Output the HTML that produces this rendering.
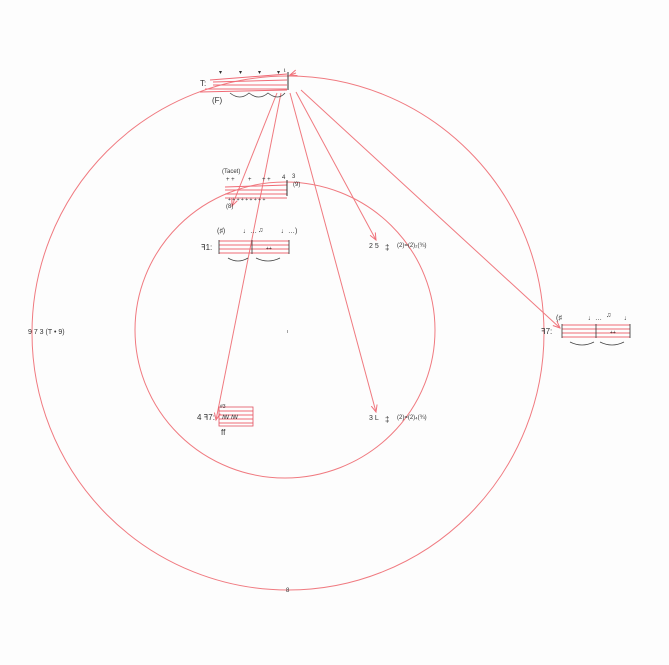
<!DOCTYPE html>
<html><head><meta charset="utf-8"><style>
html,body{margin:0;padding:0;background:#fdfdfd;}
svg{display:block}
text{font-family:"Liberation Sans",sans-serif;fill:#333;}
</style></head><body>
<svg width="669" height="665" viewBox="0 0 669 665" xmlns="http://www.w3.org/2000/svg">
<defs><marker id="a" markerWidth="8" markerHeight="8" refX="7" refY="4" orient="auto"><path d="M0,1 L7,4 L0,7" fill="none" stroke="#f0707a" stroke-width="1"/></marker></defs>
<g fill="none" stroke="#f07a80" stroke-width="1">
<ellipse cx="288" cy="333" rx="256" ry="257"/>
<ellipse cx="285" cy="330" rx="150" ry="148"/>
<path d="M296,73 L290,75" marker-end="url(#a)"/>
<line x1="277" y1="93" x2="232" y2="206" marker-end="url(#a)"/>
<line x1="281" y1="93" x2="216" y2="420" marker-end="url(#a)"/>
<line x1="290" y1="93" x2="376" y2="412" marker-end="url(#a)"/>
<line x1="296" y1="92" x2="376" y2="240" marker-end="url(#a)"/>
<line x1="301" y1="90" x2="560" y2="328" marker-end="url(#a)"/>
</g>
<!-- top staff -->
<g stroke="#f06a75" stroke-width="1">
<line x1="210" y1="80" x2="287" y2="74"/><line x1="213" y1="82" x2="287" y2="80"/><line x1="213" y1="85" x2="287" y2="85"/><line x1="205" y1="89" x2="287" y2="89"/>
<line x1="200" y1="92" x2="287" y2="90"/>
</g>
<line x1="288" y1="72" x2="288" y2="90" stroke="#333"/>
<text x="200" y="86" font-size="8">T:</text><text x="212" y="103" font-size="8">(F)</text>
<g font-size="6"><text x="219" y="74">▾</text><text x="239" y="74">▾</text><text x="258" y="74">▾</text><text x="277" y="74">▾</text><text x="284" y="72">ɩ</text></g>
<path d="M230,93 q10,8 19,0 q10,8 19,0 q10,8 17,0" stroke="#444" fill="none" stroke-width="0.8"/>
<!-- second staff -->
<g stroke="#f06a75" stroke-width="1">
<line x1="225" y1="187" x2="287" y2="185"/><line x1="225" y1="190" x2="287" y2="190"/><line x1="225" y1="194" x2="287" y2="194"/><line x1="225" y1="198" x2="287" y2="198"/></g>
<line x1="287" y1="180" x2="287" y2="196" stroke="#333"/>
<text x="222" y="173" font-size="6">(Tacet)</text>
<g font-size="6"><text x="226" y="181">+ +</text><text x="248" y="181">+</text><text x="262" y="181">+ +</text><text x="282" y="179">4</text><text x="292" y="178">3</text><text x="293" y="186">(9)</text></g>
<text x="228" y="201" font-size="5">+ + + + + + + + +</text><text x="226" y="208" font-size="6">(8)</text>
<!-- third staff -->
<g stroke="#f06a75" stroke-width="1">
<line x1="219" y1="241" x2="289" y2="241"/><line x1="219" y1="245" x2="289" y2="245"/><line x1="219" y1="249" x2="289" y2="249"/><line x1="219" y1="253" x2="289" y2="253"/></g>
<g stroke="#333" stroke-width="0.8"><line x1="219" y1="240" x2="219" y2="254"/><line x1="252" y1="240" x2="252" y2="254"/><line x1="289" y1="240" x2="289" y2="254"/></g>
<text x="201" y="250" font-size="8">ꟻ1:</text>
<g font-size="7"><text x="217" y="233">(♯)</text><text x="243" y="233">♩…</text><text x="258" y="232">♫</text><text x="281" y="233">♩…)</text></g>
<text x="266" y="250" font-size="5">++</text>
<path d="M228,258 q10,6 20,0 M256,258 q12,6 24,0" stroke="#444" fill="none" stroke-width="0.8"/>
<!-- right staff -->
<g stroke="#f06a75" stroke-width="1">
<line x1="562" y1="325" x2="630" y2="325"/><line x1="562" y1="329" x2="630" y2="329"/><line x1="562" y1="333" x2="630" y2="333"/><line x1="562" y1="337" x2="630" y2="337"/></g>
<g stroke="#333" stroke-width="0.8"><line x1="562" y1="324" x2="562" y2="338"/><line x1="596" y1="324" x2="596" y2="338"/><line x1="630" y1="324" x2="630" y2="338"/></g>
<text x="541" y="334" font-size="8">ꟻ7:</text>
<g font-size="7"><text x="556" y="320">(♯</text><text x="588" y="320">♩…</text><text x="606" y="317">♫</text><text x="624" y="320">♩</text></g>
<text x="610" y="334" font-size="5">++</text>
<path d="M570,342 q12,6 24,0 M600,342 q12,6 24,0" stroke="#444" fill="none" stroke-width="0.8"/>
<!-- bottom-left staff -->
<g stroke="#f06a75" stroke-width="1">
<line x1="219" y1="411" x2="253" y2="411"/><line x1="219" y1="415" x2="253" y2="415"/><line x1="219" y1="419" x2="253" y2="419"/><line x1="219" y1="423" x2="253" y2="423"/></g>
<rect x="219" y="407" width="34" height="19" fill="none" stroke="#e05060" stroke-width="0.8"/>
<text x="197" y="420" font-size="8">4 ꟻ7:</text><text x="222" y="419" font-size="6">ꟿ  ꟿ</text>
<text x="221" y="435" font-size="8">ff</text><text x="220" y="408" font-size="5">#3</text>
<!-- middle labels -->
<text x="369" y="248" font-size="7">2 5</text><text x="385" y="250" font-size="8">‡</text>
<text x="397" y="247" font-size="6">(2)=(2)₂(¾)</text>
<text x="369" y="420" font-size="7">3 L</text><text x="385" y="422" font-size="8">‡</text>
<text x="397" y="419" font-size="6">(2)=(2)₄(¾)</text>
<text x="28" y="334" font-size="7">9 7 3 (T • 9)</text>
<text x="286" y="592" font-size="6">8</text>
<text x="287" y="333" font-size="5">ı</text>
</svg>
</body></html>
